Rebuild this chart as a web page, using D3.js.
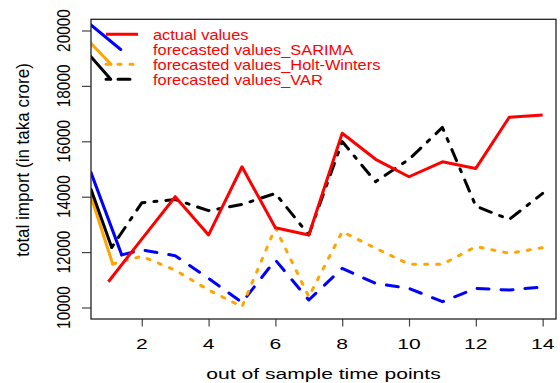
<!DOCTYPE html>
<html>
<head>
<meta charset="utf-8">
<script src="https://cdn.jsdelivr.net/npm/d3@7"></script>
<style>
  body { margin: 0; background: #fff; }
  text { font-family: "Liberation Sans", Arial, sans-serif; }
</style>
</head>
<body>
<div id="chart"></div>
<script>
// data
var timePoints = [1, 2, 3, 4, 5, 6, 7, 8, 9, 10, 11, 12, 13, 14];
var actual = [10930, 12470, 14000, 12620, 15080, 12880, 12620, 16290, 15350, 14720, 15260, 15020, 16870, 16950];

// forecasts, time points 2..14
var fcTime = [2, 3, 4, 5, 6, 7, 8, 9, 10, 11, 12, 13, 14];
var sarima = [12080, 11870, 11050, 10180, 11715, 10270, 11415, 10870, 10690, 10210, 10690, 10630, 10740];
var holtWinters = [11850, 11350, 10630, 10030, 12880, 10390, 12740, 12140, 11560, 11560, 12200, 11960, 12160];
var varModel = [13780, 13900, 13495, 13720, 14120, 12620, 15990, 14540, 15350, 16500, 13660, 13180, 14120];

// solid lead-in pieces at the left edge [time, value]
var sarimaLead = [[0.48, 14870], [1.40, 11900]];
var holtLead = [[0.48, 14000], [1.13, 11570]];
var varLead = [[0.48, 14270], [1.10, 12170]];

var xTicks = [2, 4, 6, 8, 10, 12, 14];
var yTicks = [10000, 12000, 14000, 16000, 18000, 20000];
var legendLabels = ["actual values", "forecasted values_SARIMA", "forecasted values_Holt-Winters", "forecasted values_VAR"];

var width = 560, height = 383;
var box = {left: 91, right: 556, top: 19.3, bottom: 319};

var svg = d3.select("#chart").append("svg")
    .attr("width", width)
    .attr("height", height);

var x = d3.scaleLinear().domain([0.48, 14.4]).range([box.left, box.right]);
var y = d3.scaleLinear().domain([9585, 20404]).range([box.bottom, box.top]);

svg.append("clipPath").attr("id", "clip")
  .append("rect")
    .attr("x", box.left).attr("y", box.top)
    .attr("width", box.right - box.left).attr("height", box.bottom - box.top);

// text drawn a bit wider than tall, like the reference
function stext(str, tx, ty, size, sx, rot) {
  return svg.append("text")
      .attr("transform", "translate(" + tx + "," + ty + ") scale(" + sx + ",1)" + (rot ? " rotate(" + rot + ")" : ""))
      .attr("text-anchor", "middle")
      .style("font-size", size + "px")
      .style("fill", "#000")
      .text(str);
}

// axes
var xAxis = svg.append("g")
    .attr("transform", "translate(0," + box.bottom + ")")
    .call(d3.axisBottom(x).tickValues(xTicks).tickSize(7.5).tickFormat(""));
var yAxis = svg.append("g")
    .attr("transform", "translate(" + box.left + ",0)")
    .call(d3.axisLeft(y).tickValues(yTicks).tickSize(9).tickFormat(""));
[xAxis, yAxis].forEach(function(a) {
  a.select(".domain").remove();
  a.selectAll("line").attr("stroke", "#444").attr("stroke-width", 1.2);
});

xTicks.forEach(function(d) { stext(d, x(d), 348.5, 15.4, 1.37); });
yTicks.forEach(function(d) { stext(d, 70, y(d), 15.4, 1.22, -90); });

stext("out of sample time points", (box.left + box.right) / 2, 379, 15.4, 1.37);
stext("total import (in taka crore)", 28.5, 160, 17, 1.05, -90);

// plot area
var plot = svg.append("g").attr("clip-path", "url(#clip)");

var line = d3.line()
    .x(function(d) { return x(d[0]); })
    .y(function(d) { return y(d[1]); });

function pairs(times, vals) {
  return times.map(function(t, i) { return [t, vals[i]]; });
}

var series = [
  {lead: sarimaLead, vals: sarima, color: "#0000FF", dash: "12,12"},
  {lead: holtLead, vals: holtWinters, color: "#FFA500", dash: "3,9"},
  {lead: varLead, vals: varModel, color: "#000000", dash: "3,9,12,9"}
];

series.forEach(function(s) {
  plot.append("path")
      .attr("d", line(s.lead))
      .attr("fill", "none").attr("stroke", s.color)
      .attr("stroke-width", 3).attr("stroke-linecap", "round");
  plot.append("path")
      .attr("d", line([s.lead[1]].concat(pairs(fcTime, s.vals))))
      .attr("fill", "none").attr("stroke", s.color)
      .attr("stroke-width", 3).attr("stroke-linecap", "round")
      .attr("stroke-linejoin", "round")
      .attr("stroke-dasharray", s.dash);
});

plot.append("path")
    .attr("d", line(pairs(timePoints, actual)))
    .attr("fill", "none").attr("stroke", "#FF0000")
    .attr("stroke-width", 3).attr("stroke-linejoin", "round");

// legend
var legY = [34.3, 49.5, 64.3, 79.3];
var leg = plot.append("g");
leg.append("line").attr("x1", 106).attr("x2", 138).attr("y1", legY[0]).attr("y2", legY[0])
    .attr("stroke", "#FF0000").attr("stroke-width", 3);
// diagonals running into the keys
var diag = [
  {c: "#0000FF", y0: 25, x1: 120.7, y1: legY[1]},
  {c: "#FFA500", y0: 43.3, x1: 111, y1: legY[2]},
  {c: "#000000", y0: 56.7, x1: 110.7, y1: legY[3]}
];
diag.forEach(function(d) {
  leg.append("line").attr("x1", 88).attr("y1", d.y0 - (d.y1 - d.y0) / (d.x1 - 91) * 3)
      .attr("x2", d.x1).attr("y2", d.y1)
      .attr("stroke", d.c).attr("stroke-width", 3).attr("stroke-linecap", "round");
});
leg.append("line").attr("x1", 106).attr("x2", 138).attr("y1", legY[2]).attr("y2", legY[2])
    .attr("stroke", "#FFA500").attr("stroke-width", 3).attr("stroke-linecap", "round")
    .attr("stroke-dasharray", "3,9");
leg.append("line").attr("x1", 106).attr("x2", 138).attr("y1", legY[3]).attr("y2", legY[3])
    .attr("stroke", "#000").attr("stroke-width", 3).attr("stroke-linecap", "round")
    .attr("stroke-dasharray", "3,9,12,9");

legendLabels.forEach(function(l, i) {
  svg.append("text")
      .attr("transform", "translate(153," + (legY[i] + 5.3) + ") scale(1.17,1)")
      .style("font-size", "14px")
      .style("fill", "#FF0000")
      .text(l);
});

// frame
svg.append("rect")
    .attr("x", box.left).attr("y", box.top)
    .attr("width", box.right - box.left).attr("height", box.bottom - box.top)
    .attr("fill", "none").attr("stroke", "#222").attr("stroke-width", 1.3);
</script>
</body>
</html>
